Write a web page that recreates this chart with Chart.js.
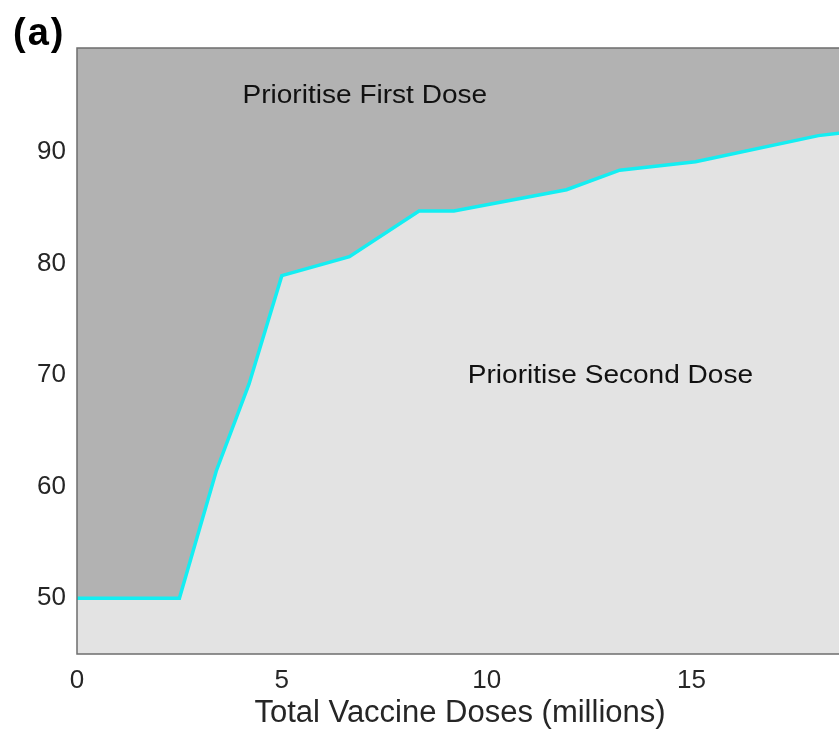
<!DOCTYPE html>
<html>
<head>
<meta charset="utf-8">
<script src="https://cdn.jsdelivr.net/npm/chart.js@4/dist/chart.umd.min.js"></script>
<style>
  html, body { margin: 0; padding: 0; background: #ffffff; overflow: hidden; }
  #wrap { position: relative; width: 846px; height: 734px; }
  #panel {
    position: absolute; left: 13px; top: 13px;
    font-family: "Liberation Sans", Arial, sans-serif; font-weight: bold;
    font-size: 38px; line-height: 38px; letter-spacing: 2px; color: #000;
  }
</style>
</head>
<body>
<div id="wrap">
  <canvas id="c" width="846" height="734"></canvas>
  <div id="panel">(a)</div>
</div>
<script>
// Switching threshold between the two dosing strategies
const doses = [0, 2.5, 3.4, 4.2, 5.0, 6.65, 8.35, 9.2, 11.95, 13.25, 15.1, 18.1, 18.7];
const threshold = [50, 50, 61.4, 69.2, 78.9, 80.6, 84.7, 84.7, 86.6, 88.35, 89.1, 91.45, 91.7];
const xTicks = [0, 5, 10, 15];
const yTicks = [50, 60, 70, 80, 90];
const regionLabels = ["Prioritise First Dose", "Prioritise Second Dose"];

const FONT = "'Liberation Sans', Arial, sans-serif";

// Dark background for the region above the threshold line
const regionBackground = {
  id: 'regionBackground',
  beforeDraw(chart) {
    const { ctx, chartArea: a } = chart;
    ctx.save();
    ctx.fillStyle = '#b2b2b2';
    ctx.fillRect(a.left, a.top, a.right - a.left, a.bottom - a.top);
    ctx.restore();
  }
};

// Slightly widened caption text, anchored at its left baseline
function caption(ctx, text, x, y) {
  ctx.save();
  ctx.translate(x, y);
  ctx.scale(1.1, 1);
  ctx.fillText(text, 0, 0);
  ctx.restore();
}

// Axes box and the two region captions
const frameAndCaptions = {
  id: 'frameAndCaptions',
  afterDatasetsDraw(chart) {
    const { ctx, chartArea: a, scales } = chart;
    ctx.save();
    ctx.strokeStyle = '#6e6e6e';
    ctx.lineWidth = 1.5;
    ctx.strokeRect(a.left, a.top, a.right - a.left, a.bottom - a.top);

    ctx.fillStyle = '#111111';
    ctx.font = '25.5px ' + FONT;
    ctx.textAlign = 'left';
    ctx.textBaseline = 'alphabetic';
    caption(ctx, regionLabels[0], scales.x.getPixelForValue(4.04), scales.y.getPixelForValue(94.35));
    caption(ctx, regionLabels[1], scales.x.getPixelForValue(9.54), scales.y.getPixelForValue(69.25));
    ctx.restore();
  }
};

new Chart(document.getElementById('c'), {
  type: 'line',
  data: {
    datasets: [{
      data: doses.map((d, i) => ({ x: d, y: threshold[i] })),
      borderColor: '#14eef2',
      borderWidth: 3.5,
      backgroundColor: '#e3e3e3',
      fill: 'start',
      pointRadius: 0,
      tension: 0
    }]
  },
  plugins: [regionBackground, frameAndCaptions],
  options: {
    responsive: false,
    animation: false,
    layout: { padding: { left: 0, right: 3, top: 48, bottom: 0 } },
    plugins: { legend: { display: false }, tooltip: { enabled: false } },
    scales: {
      x: {
        type: 'linear',
        min: 0, max: 18.7,
        afterBuildTicks: s => { s.ticks = xTicks.map(v => ({ value: v })); },
        afterFit: s => { s.height = 80; },
        grid: { display: false, drawTicks: false },
        border: { display: false },
        ticks: { color: '#262626', font: { family: FONT, size: 26 }, padding: 11, maxRotation: 0 },
        title: {
          display: true,
          text: 'Total Vaccine Doses (millions)',
          color: '#262626',
          font: { family: FONT, size: 31 },
          padding: { top: 0, bottom: 2 }
        }
      },
      y: {
        type: 'linear',
        min: 45, max: 99.3,
        afterBuildTicks: s => { s.ticks = yTicks.map(v => ({ value: v })); },
        afterFit: s => { s.width = 77; },
        grid: { display: false, drawTicks: false },
        border: { display: false },
        ticks: { color: '#262626', font: { family: FONT, size: 26 }, padding: 11 }
      }
    }
  }
});
</script>
</body>
</html>
